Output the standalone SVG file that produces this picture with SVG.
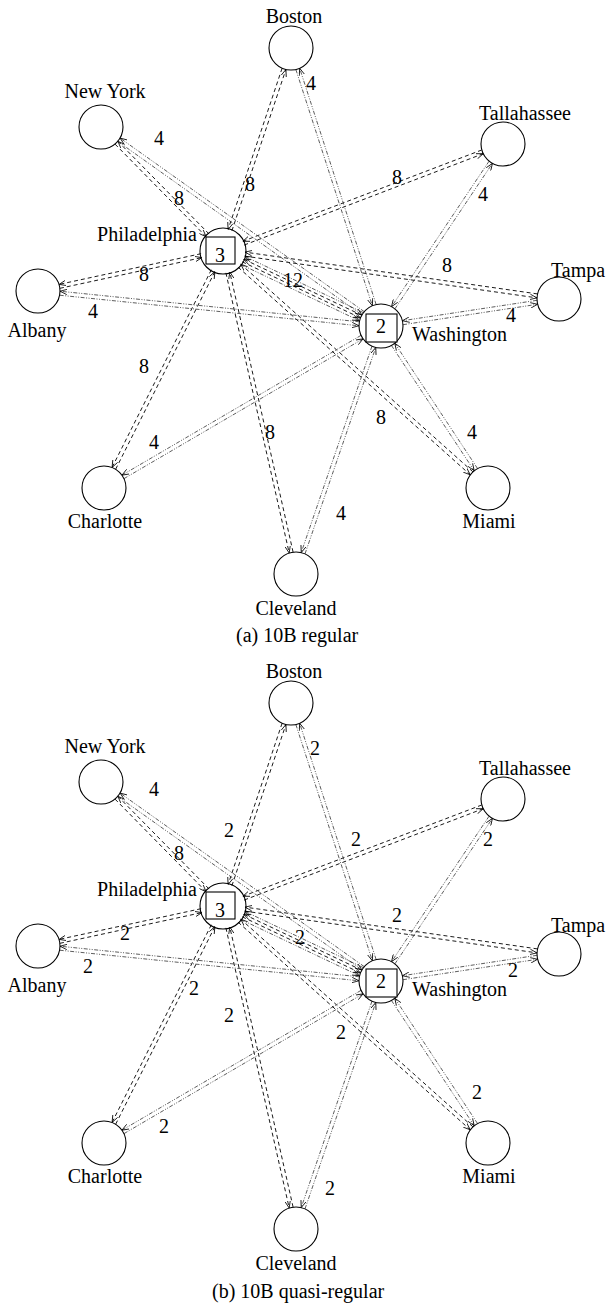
<svg xmlns="http://www.w3.org/2000/svg" width="606" height="1311" viewBox="0 0 606 1311">
<defs>
<marker id="ah" viewBox="0 0 7 6" refX="7" refY="3" markerWidth="7" markerHeight="6" markerUnits="userSpaceOnUse" orient="auto">
<path d="M0,0.3 L7,3 L0,5.7" fill="none" stroke="#000" stroke-width="0.8"/>
</marker>
<style>
.nd{fill:none;stroke:#000;stroke-width:1.1}
.sq{fill:#fff;stroke:#000;stroke-width:1.1}
text{font-family:"Liberation Serif","Times New Roman",serif;font-size:20px;fill:#000}
.m{text-anchor:middle}
.e{text-anchor:end}
.ds{fill:none;stroke:#000;stroke-width:0.9;stroke-dasharray:4 3;marker-end:url(#ah)}
.dd{fill:none;stroke:#333;stroke-width:0.8;stroke-dasharray:4 1.5 1 1.5 1 1.5;marker-end:url(#ah)}
</style>
</defs>
<rect width="606" height="1311" fill="#fff"/>

<g id="connectors-a">
<path class="ds" d="M231.89,230.78 L285.91,69.50"/><path class="ds" d="M282.11,68.22 L228.09,229.51"/>
<path class="ds" d="M209.0,233.92 L117.86,141.28"/><path class="ds" d="M115.0,144.08 L206.14,236.72"/>
<path class="ds" d="M244.26,245.02 L483.16,153.72"/><path class="ds" d="M481.74,149.98 L242.84,241.28"/>
<path class="ds" d="M244.50,256.09 L536.94,297.87"/><path class="ds" d="M537.50,293.91 L245.06,252.13"/>
<path class="ds" d="M201.08,253.69 L59.08,284.40"/><path class="ds" d="M59.92,288.30 L201.92,257.60"/>
<path class="ds" d="M211.34,269.77 L112.08,467.44"/><path class="ds" d="M115.66,469.24 L214.92,271.56"/>
<path class="ds" d="M238.07,267.16 L470.27,474.82"/><path class="ds" d="M472.93,471.84 L240.73,264.18"/>
<path class="ds" d="M225.90,272.90 L289.20,552.98"/><path class="ds" d="M293.10,552.10 L229.80,272.02"/>
<path class="ds" d="M242.23,261.79 L360.49,317.93"/><path class="ds" d="M361.77,315.22 L243.51,259.08"/>
<path class="dd" d="M240.94,264.50 L359.20,320.64"/><path class="dd" d="M363.06,312.51 L244.80,256.37"/>
<path class="dd" d="M376.12,304.45 L299.68,68.31"/><path class="dd" d="M295.88,69.55 L372.32,305.69"/>
<path class="dd" d="M364.23,311.63 L120.09,138.11"/><path class="dd" d="M117.77,141.37 L361.91,314.89"/>
<path class="dd" d="M394.91,308.84 L492.41,163.38"/><path class="dd" d="M489.09,161.16 L391.59,306.62"/>
<path class="dd" d="M403.05,324.68 L537.55,304.28"/><path class="dd" d="M536.95,300.32 L402.45,320.72"/>
<path class="dd" d="M359.31,321.78 L60.09,291.24"/><path class="dd" d="M59.69,295.22 L358.91,325.76"/>
<path class="dd" d="M361.00,335.38 L121.98,475.16"/><path class="dd" d="M124.00,478.62 L363.02,338.83"/>
<path class="dd" d="M391.45,345.46 L474.21,470.74"/><path class="dd" d="M477.55,468.54 L394.79,343.26"/>
<path class="dd" d="M371.98,346.16 L301.24,552.54"/><path class="dd" d="M305.02,553.84 L375.76,347.46"/>
<text class="m" x="311" y="90">4</text>
<text class="m" x="159" y="145">4</text>
<text class="m" x="179" y="205">8</text>
<text class="m" x="250" y="191">8</text>
<text class="m" x="397" y="184">8</text>
<text class="m" x="483" y="201">4</text>
<text class="m" x="447" y="272">8</text>
<text class="m" x="511" y="322">4</text>
<text class="m" x="144" y="281">8</text>
<text class="m" x="93" y="318">4</text>
<text class="m" x="293" y="287">12</text>
<text class="m" x="144" y="373">8</text>
<text class="m" x="270" y="439">8</text>
<text class="m" x="154" y="449">4</text>
<text class="m" x="381" y="424">8</text>
<text class="m" x="472" y="439">4</text>
<text class="m" x="341" y="520">4</text>
</g>

<g id="connectors-b">
<g transform="translate(0,655)">
<path class="ds" d="M231.89,230.78 L285.91,69.50"/><path class="ds" d="M282.11,68.22 L228.09,229.51"/>
<path class="ds" d="M209.0,233.92 L117.86,141.28"/><path class="ds" d="M115.0,144.08 L206.14,236.72"/>
<path class="ds" d="M244.26,245.02 L483.16,153.72"/><path class="ds" d="M481.74,149.98 L242.84,241.28"/>
<path class="ds" d="M244.50,256.09 L536.94,297.87"/><path class="ds" d="M537.50,293.91 L245.06,252.13"/>
<path class="ds" d="M201.08,253.69 L59.08,284.40"/><path class="ds" d="M59.92,288.30 L201.92,257.60"/>
<path class="ds" d="M211.34,269.77 L112.08,467.44"/><path class="ds" d="M115.66,469.24 L214.92,271.56"/>
<path class="ds" d="M238.07,267.16 L470.27,474.82"/><path class="ds" d="M472.93,471.84 L240.73,264.18"/>
<path class="ds" d="M225.90,272.90 L289.20,552.98"/><path class="ds" d="M293.10,552.10 L229.80,272.02"/>
<path class="ds" d="M242.23,261.79 L360.49,317.93"/><path class="ds" d="M361.77,315.22 L243.51,259.08"/>
<path class="dd" d="M240.94,264.50 L359.20,320.64"/><path class="dd" d="M363.06,312.51 L244.80,256.37"/>
<path class="dd" d="M376.12,304.45 L299.68,68.31"/><path class="dd" d="M295.88,69.55 L372.32,305.69"/>
<path class="dd" d="M364.23,311.63 L120.09,138.11"/><path class="dd" d="M117.77,141.37 L361.91,314.89"/>
<path class="dd" d="M394.91,308.84 L492.41,163.38"/><path class="dd" d="M489.09,161.16 L391.59,306.62"/>
<path class="dd" d="M403.05,324.68 L537.55,304.28"/><path class="dd" d="M536.95,300.32 L402.45,320.72"/>
<path class="dd" d="M359.31,321.78 L60.09,291.24"/><path class="dd" d="M59.69,295.22 L358.91,325.76"/>
<path class="dd" d="M361.00,335.38 L121.98,475.16"/><path class="dd" d="M124.00,478.62 L363.02,338.83"/>
<path class="dd" d="M391.45,345.46 L474.21,470.74"/><path class="dd" d="M477.55,468.54 L394.79,343.26"/>
<path class="dd" d="M371.98,346.16 L301.24,552.54"/><path class="dd" d="M305.02,553.84 L375.76,347.46"/>
</g>
<text class="m" x="154" y="796">4</text>
<text class="m" x="179" y="860">8</text>
<text class="m" x="315" y="755">2</text>
<text class="m" x="229" y="837">2</text>
<text class="m" x="356" y="846">2</text>
<text class="m" x="488" y="846">2</text>
<text class="m" x="397" y="922">2</text>
<text class="m" x="513" y="977">2</text>
<text class="m" x="125" y="940">2</text>
<text class="m" x="88" y="973">2</text>
<text class="m" x="300" y="944">2</text>
<text class="m" x="194" y="995">2</text>
<text class="m" x="229" y="1022">2</text>
<text class="m" x="341" y="1039">2</text>
<text class="m" x="477" y="1099">2</text>
<text class="m" x="164" y="1133">2</text>
<text class="m" x="330" y="1195">2</text>
</g>

<g id="a-boston"><circle class="nd" cx="291" cy="48" r="22"/><text class="m" x="294" y="23">Boston</text></g>
<g id="a-newyork"><circle class="nd" cx="101" cy="127" r="22"/><text class="m" x="105" y="98">New York</text></g>
<g id="a-tallahassee"><circle class="nd" cx="503" cy="144" r="22"/><text class="m" x="525" y="120">Tallahassee</text></g>
<g id="a-tampa"><circle class="nd" cx="559" cy="299" r="22"/><text x="551" y="277">Tampa</text></g>
<g id="a-albany"><circle class="nd" cx="38" cy="291" r="22"/><text class="m" x="37" y="337">Albany</text></g>
<g id="a-charlotte"><circle class="nd" cx="104" cy="488" r="22"/><text class="m" x="105" y="528">Charlotte</text></g>
<g id="a-cleveland"><circle class="nd" cx="296" cy="574" r="22"/><text class="m" x="296" y="615">Cleveland</text></g>
<g id="a-miami"><circle class="nd" cx="488" cy="488" r="22"/><text class="m" x="489" y="528">Miami</text></g>
<g id="a-philadelphia"><circle class="nd" cx="223" cy="251" r="23"/><rect class="sq" x="206" y="237" width="29" height="27"/><text class="m" x="220" y="262">3</text><text class="e" x="197" y="241">Philadelphia</text></g>
<g id="a-washington"><circle class="nd" cx="381" cy="326" r="22"/><rect class="sq" x="366" y="314" width="31" height="28"/><text class="m" x="381" y="333">2</text><text x="412" y="341">Washington</text></g>
<text id="caption-a" x="236" y="642">(a)  10B regular</text>

<g id="b-boston"><circle class="nd" cx="291" cy="703" r="22"/><text class="m" x="294" y="678">Boston</text></g>
<g id="b-newyork"><circle class="nd" cx="101" cy="782" r="22"/><text class="m" x="105" y="753">New York</text></g>
<g id="b-tallahassee"><circle class="nd" cx="503" cy="799" r="22"/><text class="m" x="525" y="775">Tallahassee</text></g>
<g id="b-tampa"><circle class="nd" cx="559" cy="954" r="22"/><text x="551" y="932">Tampa</text></g>
<g id="b-albany"><circle class="nd" cx="38" cy="946" r="22"/><text class="m" x="37" y="992">Albany</text></g>
<g id="b-charlotte"><circle class="nd" cx="104" cy="1143" r="22"/><text class="m" x="105" y="1183">Charlotte</text></g>
<g id="b-cleveland"><circle class="nd" cx="296" cy="1229" r="22"/><text class="m" x="296" y="1270">Cleveland</text></g>
<g id="b-miami"><circle class="nd" cx="488" cy="1143" r="22"/><text class="m" x="489" y="1183">Miami</text></g>
<g id="b-philadelphia"><circle class="nd" cx="223" cy="906" r="23"/><rect class="sq" x="206" y="892" width="29" height="27"/><text class="m" x="220" y="917">3</text><text class="e" x="197" y="896">Philadelphia</text></g>
<g id="b-washington"><circle class="nd" cx="381" cy="981" r="22"/><rect class="sq" x="366" y="969" width="31" height="28"/><text class="m" x="381" y="988">2</text><text x="412" y="996">Washington</text></g>
<text id="caption-b" x="212" y="1298">(b)  10B quasi-regular</text>
</svg>
